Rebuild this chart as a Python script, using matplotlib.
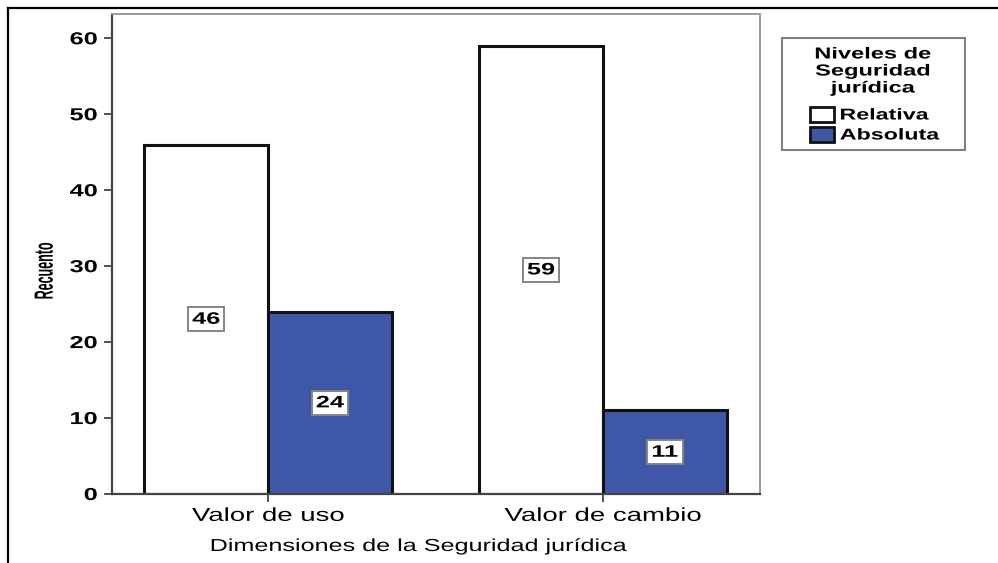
import matplotlib
matplotlib.use("Agg")
import matplotlib.pyplot as plt
import numpy as np
from matplotlib.patches import Rectangle
from matplotlib.lines import Line2D
from matplotlib.patheffects import AbstractPathEffect
from matplotlib.transforms import Affine2D

plt.rcParams['font.family'] = ['Liberation Sans', 'DejaVu Sans']

categories = ["Valor de uso", "Valor de cambio"]
series_names = ["Relativa", "Absoluta"]
relativa = [46, 59]
absoluta = [24, 11]
colors = ["#FFFFFF", "#3F57A7"]
yticks = [0, 10, 20, 30, 40, 50, 60]
legend_title = "Niveles de\nSeguridad\njurídica"
y_label = "Recuento"
x_label = "Dimensiones de la Seguridad jurídica"

W, H = 998, 563
SX = 1.52  # horizontal widening of the lettering


class HStretch(AbstractPathEffect):
    """Widen a drawn path along screen x around a chosen anchor."""

    def __init__(self, sx=SX, anchor="center"):
        super().__init__()
        self._sx = sx
        self._anchor = anchor

    def draw_path(self, renderer, gc, tpath, affine, rgbFace=None):
        ext = tpath.get_extents(affine)
        if self._anchor == "left":
            cx = ext.x0
        elif self._anchor == "right":
            cx = ext.x1
        else:
            cx = 0.5 * (ext.x0 + ext.x1)
        wide = affine + Affine2D().translate(-cx, 0).scale(self._sx, 1).translate(cx, 0)
        renderer.draw_path(gc, tpath, wide, rgbFace)


def fx(px):
    return px / W


def fy(py):
    return 1 - py / H


fig = plt.figure(figsize=(W / 100, H / 100), dpi=100)

# plot area: left 112, right 760, top 14, bottom 494 (pixels)
ax = fig.add_axes([fx(112), fy(494), (760 - 112) / W, (494 - 14) / H])

x = np.arange(len(categories))
bw = 0.37
values = [relativa, absoluta]
offsets = [-bw / 2, bw / 2]
for vals, off, col in zip(values, offsets, colors):
    bars = ax.bar(x + off, vals, width=bw, color=col, edgecolor="#111111",
                  linewidth=2.2, zorder=2)
    for b, v in zip(bars, vals):
        t = ax.text(b.get_x() + b.get_width() / 2, v / 2, f"{v}", ha="center", va="center",
                    fontsize=12, fontweight="bold", color="black", zorder=4,
                    bbox=dict(boxstyle="square,pad=0.28", facecolor="white",
                              edgecolor="#858585", linewidth=1.4))
        t.set_path_effects([HStretch()])
        t.get_bbox_patch().set_path_effects([HStretch(1.32)])

ax.set_xlim(-0.466, 1.469)
ax.set_ylim(0, 63.2)
ax.set_yticks(yticks)
ax.set_yticklabels([str(t) for t in yticks], fontsize=12.5, fontweight="bold")
ax.set_xticks(x)
ax.set_xticklabels(categories, fontsize=13.5)
ax.tick_params(axis="y", direction="out", length=6, width=1.3, color="#444444", pad=4.5)
ax.tick_params(axis="x", direction="out", length=6, width=1.3, color="#444444", pad=4)
for lbl in ax.get_yticklabels():
    lbl.set_path_effects([HStretch(1.46, anchor="right")])
for lbl in ax.get_xticklabels():
    lbl.set_path_effects([HStretch(1.47)])

for side in ["left", "bottom"]:
    ax.spines[side].set_color("#444444")
    ax.spines[side].set_linewidth(1.6)
for side in ["top", "right"]:
    ax.spines[side].set_color("#9a9a9a")
    ax.spines[side].set_linewidth(1.4)

ax.set_ylabel(y_label, fontsize=9, fontweight="bold")
ax.yaxis.set_label_coords((51 - 112) / 648, (494 - 271) / 480)
ax.yaxis.label.set_path_effects([HStretch(2.1)])
ax.set_xlabel(x_label, fontsize=12.5)
ax.xaxis.set_label_coords((419 - 112) / 648, (494 - 539) / 480)
ax.xaxis.label.set_path_effects([HStretch(1.45)])

# legend box
fig.add_artist(Rectangle((fx(782), fy(150)), (965 - 782) / W, (150 - 38) / H,
                         transform=fig.transFigure, facecolor="white",
                         edgecolor="#808080", linewidth=1.5))
for i, line in enumerate(legend_title.split("\n")):
    t = fig.text(fx(873), fy(54 + 17 * i), line, ha="center", va="center",
                 fontsize=11.5, fontweight="bold")
    t.set_path_effects([HStretch(1.48)])
for i, (name, col) in enumerate(zip(series_names, colors)):
    top = 107 + 20 * i
    fig.add_artist(Rectangle((fx(810), fy(top + 15)), 24 / W, 15 / H,
                             transform=fig.transFigure, facecolor=col,
                             edgecolor="#111111", linewidth=2.0))
    t = fig.text(fx(840), fy(top + 8), name, ha="left", va="center",
                 fontsize=11.3, fontweight="bold")
    t.set_path_effects([HStretch(1.48, anchor="left")])

# figure border lines on the left and top
fig.add_artist(Line2D([fx(8), fx(8)], [0, fy(8)], transform=fig.transFigure,
                      color="black", linewidth=1.6))
fig.add_artist(Line2D([fx(8), 1], [fy(8), fy(8)], transform=fig.transFigure,
                      color="black", linewidth=1.6))

fig.savefig("out.png", dpi=100, facecolor="white")
